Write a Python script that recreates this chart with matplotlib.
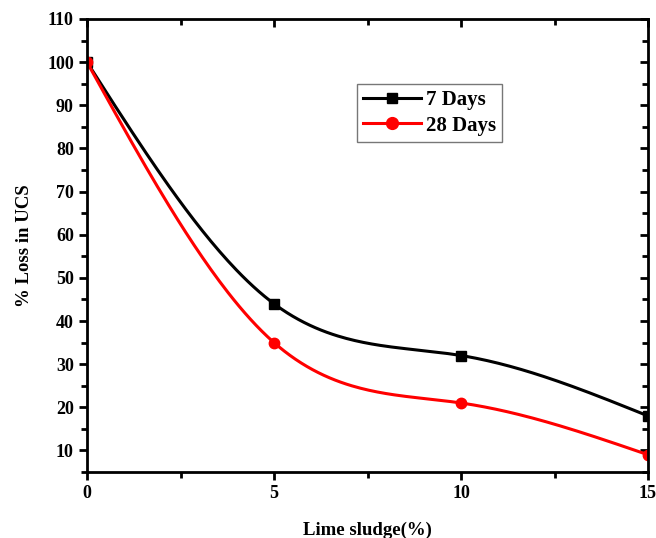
import numpy as np
import matplotlib
matplotlib.use("Agg")
import matplotlib.pyplot as plt
from matplotlib.ticker import MultipleLocator

# data
lime = [0, 5, 10, 15]
loss_7 = [100, 44, 32, 18]
loss_28 = [100, 35, 21, 9]


def natural_spline(x, y, n=200):
    # plain natural cubic spline, like Origin's "spline" connect
    x = np.asarray(x, float)
    y = np.asarray(y, float)
    h = np.diff(x)
    m = len(x)
    A = np.zeros((m, m))
    b = np.zeros(m)
    A[0, 0] = A[-1, -1] = 1
    for i in range(1, m - 1):
        A[i, i - 1] = h[i - 1]
        A[i, i] = 2 * (h[i - 1] + h[i])
        A[i, i + 1] = h[i]
        b[i] = 6 * ((y[i + 1] - y[i]) / h[i] - (y[i] - y[i - 1]) / h[i - 1])
    M = np.linalg.solve(A, b)
    xs = np.linspace(x[0], x[-1], n)
    idx = np.clip(np.searchsorted(x, xs) - 1, 0, m - 2)
    x0, x1 = x[idx], x[idx + 1]
    hh = x1 - x0
    ys = (M[idx] * (x1 - xs) ** 3 / (6 * hh) + M[idx + 1] * (xs - x0) ** 3 / (6 * hh)
          + (y[idx] / hh - M[idx] * hh / 6) * (x1 - xs)
          + (y[idx + 1] / hh - M[idx + 1] * hh / 6) * (xs - x0))
    return xs, ys


plt.rcParams['font.family'] = 'Liberation Serif'
plt.rcParams['font.weight'] = 'bold'

fig = plt.figure(figsize=(6.56, 5.38), dpi=100)
ax = fig.add_axes([87 / 656, 1 - 472 / 538, 561 / 656, 453 / 538])

for yv, col, mk, lab in [(loss_7, 'black', 's', '7 Days'), (loss_28, 'red', 'o', '28 Days')]:
    ms = 6.5 if mk == 's' else 7.5
    xs, ys = natural_spline(lime, yv)
    ax.plot(xs, ys, color=col, lw=2.2)
    ax.plot(lime, yv, ls='none', marker=mk, color=col, ms=ms)
    # legend proxy
    ax.plot([], [], color=col, lw=2.2, marker=mk, ms=ms + 1, label=lab)

ax.set_xlim(0, 15)
ax.set_ylim(5, 110)
ax.xaxis.set_major_locator(MultipleLocator(5))
ax.xaxis.set_minor_locator(MultipleLocator(2.5))
ax.yaxis.set_major_locator(MultipleLocator(10))
ax.yaxis.set_minor_locator(MultipleLocator(5))
ax.set_yticks(range(10, 111, 10))

for s in ax.spines.values():
    s.set_linewidth(2)

ax.tick_params(which='both', direction='out', width=2, labelsize=13)
ax.tick_params(which='major', length=6)
ax.tick_params(which='minor', length=4)
# mirrored ticks on top / right point inward
ax2 = ax.secondary_xaxis('top')
ax2.xaxis.set_major_locator(MultipleLocator(5))
ax2.xaxis.set_minor_locator(MultipleLocator(2.5))
ax2.tick_params(which='both', direction='in', width=2, labeltop=False)
ax2.tick_params(which='major', length=6)
ax2.tick_params(which='minor', length=4)
ax3 = ax.secondary_yaxis('right')
ax3.yaxis.set_major_locator(MultipleLocator(10))
ax3.yaxis.set_minor_locator(MultipleLocator(5))
ax3.tick_params(which='both', direction='in', width=2, labelright=False)
ax3.tick_params(which='major', length=6)
ax3.tick_params(which='minor', length=4)

ax.set_xlabel('Lime sludge(%)', fontsize=13.5, fontweight='bold', labelpad=14)
ax.set_ylabel('% Loss in UCS', fontsize=13.5, fontweight='bold', labelpad=10)

leg = ax.legend(loc='upper left', bbox_to_anchor=(0.481, 0.856), fontsize=15,
                frameon=True, fancybox=False, handlelength=2.8, handletextpad=0.2,
                borderpad=0.3, labelspacing=0.25, borderaxespad=0)
leg.get_frame().set_edgecolor('#555555')
leg.get_frame().set_linewidth(1)

fig.savefig('out.png', dpi=100)
